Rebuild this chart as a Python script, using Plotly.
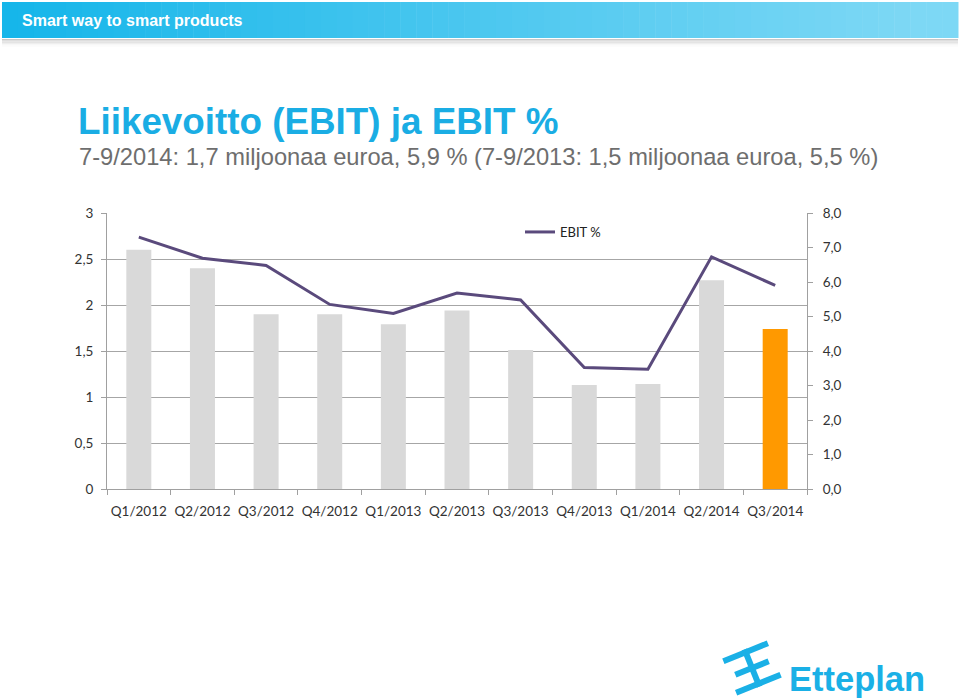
import math
import plotly.graph_objects as go

# ---- data ----
quarters = ["Q1/2012", "Q2/2012", "Q3/2012", "Q4/2012", "Q1/2013", "Q2/2013",
            "Q3/2013", "Q4/2013", "Q1/2014", "Q2/2014", "Q3/2014"]
ebit_meur = [2.6, 2.4, 1.9, 1.9, 1.79, 1.94, 1.51, 1.13, 1.14, 2.27, 1.74]
ebit_pct = [7.3, 6.69, 6.48, 5.35, 5.09, 5.68, 5.48, 3.52, 3.47, 6.73, 5.9]

W, H = 960, 700
PL, PR, PT, PB = 107, 807, 213, 489


def px(x):
    return (x - PL) / (PR - PL)


def py(y):
    return (PB - y) / (PB - PT)


bar_colors = ["#D9D9D9"] * (len(quarters) - 1) + ["#FF9900"]

fig = go.Figure()
fig.add_trace(go.Bar(x=quarters, y=ebit_meur, marker=dict(color=bar_colors, line=dict(width=0)),
                     showlegend=False, name="EBIT", yaxis="y"))
fig.add_trace(go.Scatter(x=quarters, y=ebit_pct, mode="lines", name="EBIT %",
                         line=dict(color="#5A4A7C", width=3), yaxis="y2"))

shapes = []
# header gradient bar
n = 60
c0 = (22, 182, 234)
c1 = (125, 216, 245)
x0p, x1p = 2, 958
for i in range(n):
    t = i / (n - 1)
    tt = min(1.0, t * 1.05)
    col = tuple(int(c0[k] + (c1[k] - c0[k]) * tt) for k in range(3))
    xa = x0p + (x1p - x0p) * i / n
    xb = x0p + (x1p - x0p) * (i + 1) / n + 0.5
    shapes.append(dict(type="rect", xref="paper", yref="paper",
                       x0=px(xa), x1=px(xb), y0=py(38), y1=py(2),
                       fillcolor="rgb(%d,%d,%d)" % col, line=dict(width=0), layer="above"))
# header shadow
for j, g in enumerate([200, 215, 228, 238, 246, 251]):
    shapes.append(dict(type="rect", xref="paper", yref="paper",
                       x0=px(2), x1=px(958), y0=py(39 + j * 1.3 + 1.3), y1=py(39 + j * 1.3),
                       fillcolor="rgb(%d,%d,%d)" % (g, g, g), line=dict(width=0), layer="above"))

# logo icon (stylised mirrored E's)
cx, cy = 752, 668
ang = math.radians(-22)


def rot(pts):
    out = []
    for (x, y) in pts:
        xr = cx + x * math.cos(ang) - y * math.sin(ang)
        yr = cy + x * math.sin(ang) + y * math.cos(ang)
        out.append((px(xr), py(yr)))
    return out


def poly(pts):
    p = rot(pts)
    return "M " + " L ".join("%f,%f" % q for q in p) + " Z"


icon_parts = [
    [(-3, -20), (3, -20), (3, 20), (-3, 20)],
    [(-24, -20), (0, -20), (0, -14), (-24, -14)],
    [(-18, -3), (0, -3), (0, 3), (-18, 3)],
    [(-24, 14), (0, 14), (0, 20), (-24, 20)],
    [(0, -20), (24, -20), (24, -14), (0, -14)],
    [(0, -3), (18, -3), (18, 3), (0, 3)],
    [(0, 14), (24, 14), (24, 20), (0, 20)],
]
for part in icon_parts:
    shapes.append(dict(type="path", xref="paper", yref="paper", path=poly(part),
                       fillcolor="#1AB0E6", line=dict(width=0), layer="above"))

annotations = [
    dict(text="<b>Smart way to smart products</b>", xref="paper", yref="paper",
         x=px(20), y=py(20), xanchor="left", yanchor="middle", showarrow=False,
         font=dict(family="Liberation Sans, Arial", size=16, color="white")),
    dict(text="<b>Liikevoitto (EBIT) ja EBIT %</b>", xref="paper", yref="paper",
         x=px(76), y=py(121), xanchor="left", yanchor="middle", showarrow=False,
         font=dict(family="Liberation Sans, Arial", size=36.8, color="#1AADE4")),
    dict(text="7-9/2014: 1,7 miljoonaa euroa, 5,9 % (7-9/2013: 1,5 miljoonaa euroa, 5,5 %)",
         xref="paper", yref="paper", x=px(77), y=py(157), xanchor="left", yanchor="middle",
         showarrow=False, font=dict(family="Liberation Sans, Arial", size=23.7, color="#6E6E6E")),
    dict(text="<b>Etteplan</b>", xref="paper", yref="paper",
         x=px(787), y=py(679), xanchor="left", yanchor="middle", showarrow=False,
         font=dict(family="Liberation Sans, Arial", size=34.5, color="#1AB0E6")),
]

tick_font = dict(family="Lato, Open Sans, sans-serif", size=13.5, color="#333333")

fig.update_layout(
    width=W, height=H,
    margin=dict(l=PL, r=W - PR, t=PT, b=H - PB, pad=0),
    paper_bgcolor="white", plot_bgcolor="white",
    separators=", ",
    bargap=0.607,
    shapes=shapes,
    annotations=annotations,
    showlegend=True,
    legend=dict(x=px(520), y=py(232), xanchor="left", yanchor="middle",
                bgcolor="rgba(0,0,0,0)", font=dict(family="Lato, sans-serif", size=13, color="#222222"),
                itemwidth=30),
    xaxis=dict(type="category", showgrid=False, showline=True, linecolor="#A0A0A0", linewidth=1,
               ticks="outside", ticklen=5, tickcolor="#A0A0A0", tickson="boundaries",
               tickfont=tick_font, zeroline=False, tickangle=0, ticklabelstandoff=10),
    yaxis=dict(range=[0, 3], dtick=0.5, tick0=0, showgrid=True, gridcolor="#A6A6A6", gridwidth=1,
               showline=True, linecolor="#A0A0A0", linewidth=1, ticks="outside", ticklen=5,
               tickcolor="#A0A0A0", tickfont=tick_font, zeroline=False, ticklabelstandoff=5),
    yaxis2=dict(range=[0, 8], dtick=1, tick0=0, tickformat=".1f", overlaying="y", side="right",
                showgrid=False, showline=True, linecolor="#A0A0A0", linewidth=1, ticks="outside",
                ticklen=5, tickcolor="#A0A0A0", tickfont=tick_font, zeroline=False,
                ticklabelstandoff=7),
)

fig.write_html("out.html", config={"displayModeBar": False},
               post_script="document.body.style.margin='0';document.body.style.overflow='hidden';")
